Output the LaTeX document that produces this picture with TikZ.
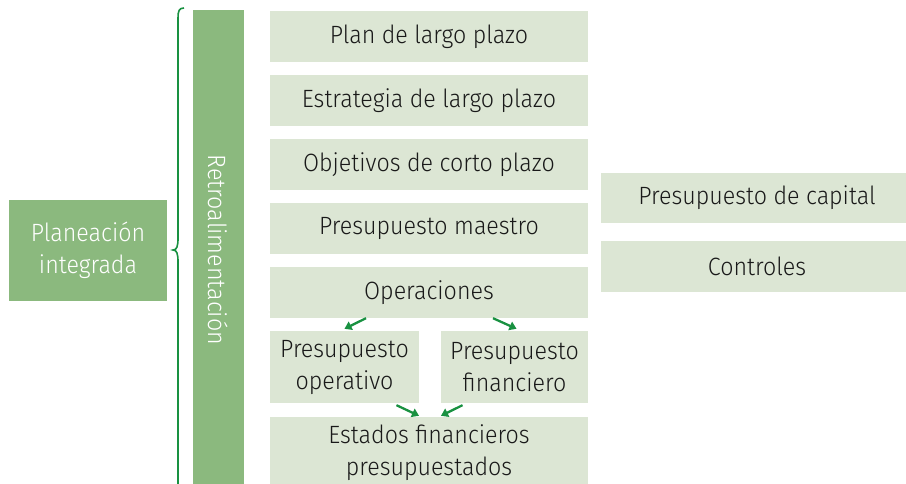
\documentclass[tikz,border=0pt]{standalone}
\usepackage{fontspec}
\setmainfont{Fira Sans Light}[FakeStretch=0.93]
\usetikzlibrary{shapes,arrows.meta}
\definecolor{plan_dark}{RGB}{139, 185, 126}
\definecolor{plan_light}{RGB}{220, 230, 212}
\definecolor{plan_arrow}{RGB}{25, 145, 65}
\tikzstyle{db}=[rectangle,fill=plan_dark,text=white,inner sep=0pt,
  align=center,font=\fontsize{25}{32}\selectfont]
\tikzstyle{lb}=[rectangle,fill=plan_light,text=black!90,inner sep=0pt,
  align=center,font=\fontsize{25}{32}\selectfont]
\tikzstyle{ar}=[draw=plan_arrow,line width=2.3pt,
  -{Triangle[length=7pt,width=9pt]}]

\begin{document}
\begin{tikzpicture}[x=1pt,y=-1pt]
    \useasboundingbox (0,0) rectangle (906,484);
    \node [style=db,minimum width=158,minimum height=101] (integ) at (88,250.5) {Planeación\\integrada};
    \node [style=db,minimum width=51,minimum height=480] (retro) at (218.5,250) {};
    \node [rotate=-90,text=white,font=\fontsize{25}{32}\selectfont] (retrotxt) at (retro.center) {Retroalimentación};
    \draw [plan_arrow,line width=1.6pt] (184,8) .. controls (179,8) and (178,11) .. (178,18)
      -- (178,238) .. controls (178,246) and (177,250) .. (173,250)
      .. controls (177,250) and (178,254) .. (178,262) -- (178,500);
    \node [style=lb,minimum width=318,minimum height=51] (largo) at (429,36.5) {Plan de largo plazo};
    \node [style=lb,minimum width=318,minimum height=51] (estrat) at (429,100.5) {Estrategia de largo plazo};
    \node [style=lb,minimum width=318,minimum height=51] (obj) at (429,164.5) {Objetivos de corto plazo};
    \node [style=lb,minimum width=318,minimum height=51] (maestro) at (429,228.5) {Presupuesto maestro};
    \node [style=lb,minimum width=318,minimum height=51] (oper) at (429,292.5) {Operaciones};
    \node [style=lb,minimum width=149,minimum height=72] (operat) at (344.5,367) {Presupuesto\\operativo};
    \node [style=lb,minimum width=147,minimum height=72] (financ) at (514.5,367) {Presupuesto\\financiero};
    \node [style=lb,minimum width=318,minimum height=72] (estados) at (429,453) {Estados financieros\\presupuestados};
    \node [style=lb,minimum width=312,minimum height=50] (capital) at (757,198) {Presupuesto de capital};
    \node [style=lb,minimum width=312,minimum height=51] (control) at (757,266.5) {Controles};
    \draw [style=ar] ([xshift=-63pt]oper.south) to ([yshift=2pt]operat.north);
    \draw [style=ar] ([xshift=64pt]oper.south) to ([xshift=2pt,yshift=2pt]financ.north);
    \draw [style=ar] ([xshift=52pt,yshift=-2pt]operat.south) to ([xshift=-10pt,yshift=1pt]estados.north);
    \draw [style=ar] ([xshift=-52pt,yshift=-2pt]financ.south) to ([xshift=12pt,yshift=1pt]estados.north);
  \end{tikzpicture}
\end{document}
